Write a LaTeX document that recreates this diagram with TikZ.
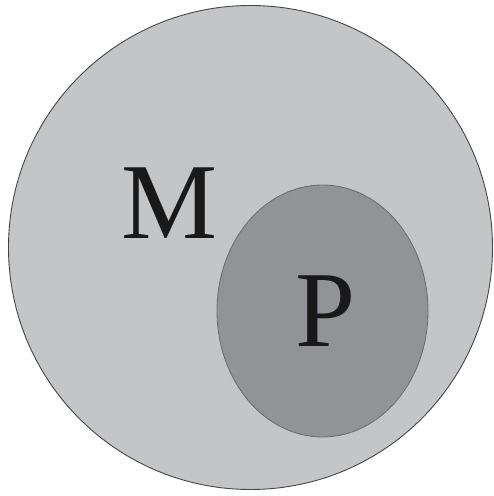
\documentclass[tikz,border=0pt]{standalone}
\usepackage{fontspec}
\setmainfont{Liberation Serif}
\usepackage{xcolor}
\usepackage{tikz}
\usetikzlibrary{shapes.geometric,positioning}
\definecolor{clrOut}{RGB}{196,197,199}
\definecolor{clrIn}{RGB}{146,147,151}
\definecolor{clrEdge}{RGB}{70,70,72}
\definecolor{clrTxt}{RGB}{25,25,25}
\tikzset{
  setM/.style={circle,draw=clrEdge,fill=clrOut,line width=0.9pt,
    minimum size=484pt,inner sep=0pt},
  setP/.style={ellipse,draw=clrEdge!80,fill=clrIn,line width=0.8pt,
    minimum width=211pt,minimum height=252pt,inner sep=0pt},
  lbl/.style={font=\fontsize{108}{108}\selectfont,text=clrTxt,inner sep=0pt}
}
\begin{document}
\begin{tikzpicture}[x=1pt,y=1pt]
  \useasboundingbox[fill=white] (0,0) rectangle (494,496);
  \node[setM] (M) at (250.5,248.5) {};
  \node[setP] (P) at (322.5,185) {};

  \node[lbl] (labM) at (170,293) {M};
  \node[lbl] (labP) at (326,185) {P};
\end{tikzpicture}
\end{document}
